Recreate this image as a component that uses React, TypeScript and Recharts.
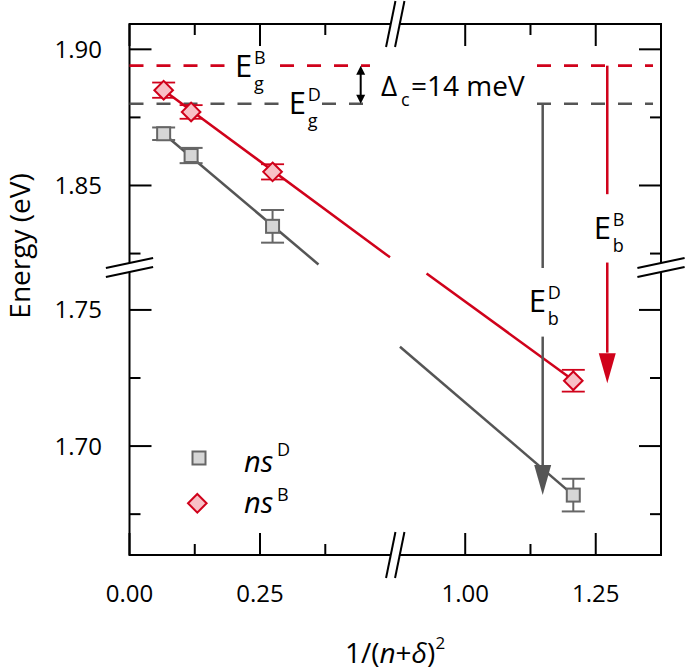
import {
  ComposedChart,
  XAxis,
  YAxis,
  Scatter,
  ErrorBar,
  ReferenceLine,
  ReferenceDot,
  ReferenceArea,
  Legend,
} from 'recharts';

const W = 685;
const H = 671;
const PL = 129.5;
const PR = 661;
const PT = 24;
const PB = 555;

const FONT = '"Open Sans", sans-serif';
const RED = '#d0021b';
const GRAY = '#555555';
const SQ_FILL = '#d6d6d6';
const SQ_STROKE = '#666666';
const DIA_FILL = '#f8c0c6';

// both axes are broken: values past the cut are shifted towards the origin
const X_CUT = 0.6;
const X_SHIFT = 0.357;
const Y_CUT = 1.79;
const Y_SHIFT = 0.0543;
const X_MAX = 1.018;
const Y_MIN = 1.66;
const Y_MAX = 1.855;
const X_BREAK = 0.509;
const Y_BREAK = 1.7654;

const toX = (v: number) => (v > X_CUT ? v - X_SHIFT : v);
const toY = (v: number) => (v > Y_CUT ? v - Y_SHIFT : v);

// 1/(n+delta)^2 for n = 4, 3, 2, 1
const xInv = [0.0654, 0.118, 0.274, 1.207];
const energyD = [1.869, 1.861, 1.835, 1.682];
const errD = [0.0023, 0.0028, 0.006, 0.006];
const energyB = [1.885, 1.877, 1.855, 1.724];
const errB = [0.0028, 0.0025, 0.0028, 0.004];

// fitted lines, drawn on each side of the break
const fitDTop = [[0.0654, 1.869], [0.362, 1.821]];
const fitDBottom = [[0.875, 1.7365], [1.207, 1.682]];
const fitBTop = [[0.0654, 1.885], [0.499, 1.8236]];
const fitBBottom = [[0.926, 1.7634], [1.207, 1.7242]];

// band gaps
const gapD = 1.88;
const gapB = 1.894;

const xTicks = [0, 0.125, 0.25, 0.375, 1.0, 1.125, 1.25];
const xLabels = ['0.00', '', '0.25', '', '1.00', '', '1.25'];
const yTicks = [1.675, 1.7, 1.725, 1.75, 1.825, 1.85, 1.875, 1.9];
const yLabels = ['', '1.70', '', '1.75', '', '1.85', '', '1.90'];

const dataD = xInv.map((x, i) => ({ x: toX(x), y: toY(energyD[i]), err: errD[i] }));
const dataB = xInv.map((x, i) => ({ x: toX(x), y: toY(energyB[i]), err: errB[i] }));

const seg = (pts: number[][]) => pts.map(([x, y]) => ({ x: toX(x), y: toY(y) }));

const XTick = (props: any) => {
  const x = props.x;
  const label = xLabels[props.index];
  const len = label ? 22 : 11;
  return (
    <g>
      <line x1={x} x2={x} y1={PB} y2={PB - len} stroke="#000" strokeWidth={2} />
      <line x1={x} x2={x} y1={PT} y2={PT + len} stroke="#000" strokeWidth={2} />
      {label && (
        <text x={x} y={602} textAnchor="middle" fontSize={24} fontFamily={FONT} fill="#000">
          {label}
        </text>
      )}
    </g>
  );
};

const YTick = (props: any) => {
  const y = props.y;
  const label = yLabels[props.index];
  const len = label ? 22 : 11;
  return (
    <g>
      <line x1={PL} x2={PL + len} y1={y} y2={y} stroke="#000" strokeWidth={2} />
      <line x1={PR} x2={PR - len} y1={y} y2={y} stroke="#000" strokeWidth={2} />
      {label && (
        <text x={102} y={y + 8.5} textAnchor="end" fontSize={24} fontFamily={FONT} fill="#000">
          {label}
        </text>
      )}
    </g>
  );
};

const Square = (p: any) => (
  <rect x={p.cx - 6.5} y={p.cy - 6.5} width={13} height={13} fill={SQ_FILL} stroke={SQ_STROKE} strokeWidth={2} />
);

const Diamond = (p: any) => (
  <polygon
    points={`${p.cx},${p.cy - 9.3} ${p.cx + 9.3},${p.cy} ${p.cx},${p.cy + 9.3} ${p.cx - 9.3},${p.cy}`}
    fill={DIA_FILL}
    stroke={RED}
    strokeWidth={2}
  />
);

const breakX = (p: any) => {
  const { cx, cy } = p;
  const a = [cx - 9.2, cy + 23];
  const b = [cx + 0.2, cy - 23];
  const c = [cx + 9.2, cy - 23];
  const d = [cx - 0.2, cy + 23];
  return (
    <g>
      <polygon points={`${a} ${b} ${c} ${d}`} fill="#fff" />
      <line x1={a[0]} y1={a[1]} x2={b[0]} y2={b[1]} stroke="#000" strokeWidth={2} />
      <line x1={d[0]} y1={d[1]} x2={c[0]} y2={c[1]} stroke="#000" strokeWidth={2} />
    </g>
  );
};

const breakY = (p: any) => {
  const { cx, cy } = p;
  const a = [cx - 23.6, cy];
  const b = [cx + 23.6, cy - 10];
  const c = [cx + 23.6, cy - 1];
  const d = [cx - 23.6, cy + 9];
  return (
    <g>
      <polygon points={`${a} ${b} ${c} ${d}`} fill="#fff" />
      <line x1={a[0]} y1={a[1]} x2={b[0]} y2={b[1]} stroke="#000" strokeWidth={2} />
      <line x1={d[0]} y1={d[1]} x2={c[0]} y2={c[1]} stroke="#000" strokeWidth={2} />
    </g>
  );
};

const headDown = (w: number, l: number, color: string) => (p: any) => (
  <polygon points={`${p.cx},${p.cy} ${p.cx - w},${p.cy - l} ${p.cx + w},${p.cy - l}`} fill={color} />
);
const headUp = (w: number, l: number, color: string) => (p: any) => (
  <polygon points={`${p.cx},${p.cy} ${p.cx - w},${p.cy + l} ${p.cx + w},${p.cy + l}`} fill={color} />
);

const energyLabel = (sup: string, sub: string) => (p: any) => (
  <g fontFamily={FONT} fill="#000">
    <text x={p.cx} y={p.cy} fontSize={31}>E</text>
    <text x={p.cx + 19} y={p.cy - 13} fontSize={18}>{sup}</text>
    <text x={p.cx + 19} y={p.cy + 13} fontSize={18}>{sub}</text>
  </g>
);

const deltaLabel = (p: any) => (
  <g fontFamily={FONT} fill="#000">
    <text x={p.cx} y={p.cy} fontSize={28}>Δ</text>
    <text x={p.cx + 20} y={p.cy + 10} fontSize={18}>c</text>
    <text x={p.cx + 30} y={p.cy} fontSize={28}>=14 meV</text>
  </g>
);

const renderLegend = () => (
  <svg width={160} height={100} style={{ display: 'block' }}>
    <rect x={14.5} y={23.5} width={13} height={13} fill={SQ_FILL} stroke={SQ_STROKE} strokeWidth={2} />
    <polygon points="19.3,66 28.6,75.3 19.3,84.6 10,75.3" fill={DIA_FILL} stroke={RED} strokeWidth={2} />
    <g fontFamily={FONT} fill="#000">
      <text x={66} y={44} fontSize={29} fontStyle="italic">ns</text>
      <text x={99} y={28} fontSize={18}>D</text>
      <text x={66} y={85} fontSize={29} fontStyle="italic">ns</text>
      <text x={99} y={73} fontSize={18}>B</text>
    </g>
  </svg>
);

const XTitle = () => (
  <text x={395} y={663} textAnchor="middle" fontSize={28} fontFamily={FONT} fill="#000">
    1/(<tspan fontStyle="italic">n</tspan>+<tspan fontStyle="italic">δ</tspan>)
    <tspan fontSize={17} dy={-14}>2</tspan>
  </text>
);

const YTitle = () => (
  <text
    x={30}
    y={246}
    transform="rotate(-90 30 246)"
    textAnchor="middle"
    fontSize={28}
    fontFamily={FONT}
    fill="#000"
  >
    Energy (eV)
  </text>
);

const dash = '14 13';

export default function App() {
  return (
    <div style={{ position: 'absolute', left: 0, top: 0 }}>
      <ComposedChart width={W} height={H} margin={{ top: PT, right: W - PR, bottom: 0, left: 0 }}>
        <XAxis
          type="number"
          dataKey="x"
          domain={[0, X_MAX]}
          ticks={xTicks.map(toX)}
          interval={0}
          tick={<XTick />}
          tickLine={false}
          axisLine={false}
          height={H - PB}
          allowDataOverflow
          label={<XTitle />}
        />
        <YAxis
          type="number"
          dataKey="y"
          domain={[Y_MIN, Y_MAX]}
          ticks={yTicks.map(toY)}
          interval={0}
          tick={<YTick />}
          tickLine={false}
          axisLine={false}
          width={PL}
          allowDataOverflow
          label={<YTitle />}
        />
        <ReferenceArea x1={0} x2={X_MAX} y1={Y_MIN} y2={Y_MAX} fill="none" fillOpacity={0} stroke="#000" strokeWidth={2} />

        {/* band gap levels */}
        <ReferenceLine segment={seg([[0, gapB], [0.2059, gapB]])} stroke={RED} strokeWidth={2.6} strokeDasharray={dash} />
        <ReferenceLine segment={seg([[0.2883, gapB], [0.4606, gapB]])} stroke={RED} strokeWidth={2.6} strokeDasharray={dash} />
        <ReferenceLine segment={seg([[1.1375, gapB], [1.3597, gapB]])} stroke={RED} strokeWidth={2.6} strokeDasharray={dash} />
        <ReferenceLine segment={seg([[0, gapD], [0.294, gapD]])} stroke={GRAY} strokeWidth={2.6} strokeDasharray={dash} />
        <ReferenceLine segment={seg([[0.3687, gapD], [0.4606, gapD]])} stroke={GRAY} strokeWidth={2.6} strokeDasharray={dash} />
        <ReferenceLine segment={seg([[1.1375, gapD], [1.3597, gapD]])} stroke={GRAY} strokeWidth={2.6} strokeDasharray={dash} />

        {/* fits */}
        <ReferenceLine segment={seg(fitDTop)} stroke={GRAY} strokeWidth={2.5} />
        <ReferenceLine segment={seg(fitDBottom)} stroke={GRAY} strokeWidth={2.5} />
        <ReferenceLine segment={seg(fitBTop)} stroke={RED} strokeWidth={2.5} />
        <ReferenceLine segment={seg(fitBBottom)} stroke={RED} strokeWidth={2.5} />

        {/* binding energy arrows */}
        <ReferenceLine segment={seg([[1.1484, gapD], [1.1484, 1.8197]])} stroke={GRAY} strokeWidth={2.5} />
        <ReferenceLine segment={seg([[1.1484, 1.7402], [1.1484, 1.693]])} stroke={GRAY} strokeWidth={2.5} />
        <ReferenceDot x={toX(1.1484)} y={toY(1.682)} r={0} ifOverflow="visible" shape={headDown(8.5, 30, GRAY)} />
        <ReferenceLine segment={seg([[1.2721, gapB], [1.2721, 1.8468]])} stroke={RED} strokeWidth={2.5} />
        <ReferenceLine segment={seg([[1.2721, 1.8217], [1.2721, 1.7343]])} stroke={RED} strokeWidth={2.5} />
        <ReferenceDot x={toX(1.2721)} y={toY(1.7231)} r={0} ifOverflow="visible" shape={headDown(8.5, 30, RED)} />

        {/* delta c */}
        <ReferenceLine segment={seg([[0.4428, gapB - 0.002], [0.4428, gapD + 0.002]])} stroke="#000" strokeWidth={2} />
        <ReferenceDot x={toX(0.4428)} y={toY(gapB)} r={0} ifOverflow="visible" shape={headUp(4.5, 9, '#000')} />
        <ReferenceDot x={toX(0.4428)} y={toY(gapD)} r={0} ifOverflow="visible" shape={headDown(4.5, 9, '#000')} />

        {/* labels */}
        <ReferenceDot x={toX(0.2021)} y={toY(1.8897)} r={0} ifOverflow="visible" shape={energyLabel('B', 'g')} />
        <ReferenceDot x={toX(0.3049)} y={toY(1.8762)} r={0} ifOverflow="visible" shape={energyLabel('D', 'g')} />
        <ReferenceDot x={toX(1.2461)} y={toY(1.8303)} r={0} ifOverflow="visible" shape={energyLabel('B', 'b')} />
        <ReferenceDot x={toX(1.1216)} y={toY(1.7493)} r={0} ifOverflow="visible" shape={energyLabel('D', 'b')} />
        <ReferenceDot x={toX(0.4817)} y={toY(1.8829)} r={0} ifOverflow="visible" shape={deltaLabel} />

        <Scatter name="nsD" data={dataD} shape={<Square />} isAnimationActive={false}>
          <ErrorBar dataKey="err" direction="y" width={11.5} stroke={SQ_STROKE} strokeWidth={2} isAnimationActive={false} />
        </Scatter>
        <Scatter name="nsB" data={dataB} shape={<Diamond />} isAnimationActive={false}>
          <ErrorBar dataKey="err" direction="y" width={11.5} stroke={RED} strokeWidth={1.8} isAnimationActive={false} />
        </Scatter>

        {/* axis breaks */}
        <ReferenceDot x={X_BREAK} y={Y_MIN} r={0} ifOverflow="visible" shape={breakX} />
        <ReferenceDot x={X_BREAK} y={Y_MAX} r={0} ifOverflow="visible" shape={breakX} />
        <ReferenceDot x={0} y={Y_BREAK} r={0} ifOverflow="visible" shape={breakY} />
        <ReferenceDot x={X_MAX} y={Y_BREAK} r={0} ifOverflow="visible" shape={breakY} />

        <Legend
          layout="horizontal"
          verticalAlign="middle"
          align="center"
          content={renderLegend}
          wrapperStyle={{ left: 178, top: 428, width: 160, height: 100 }}
        />
      </ComposedChart>
    </div>
  );
}
